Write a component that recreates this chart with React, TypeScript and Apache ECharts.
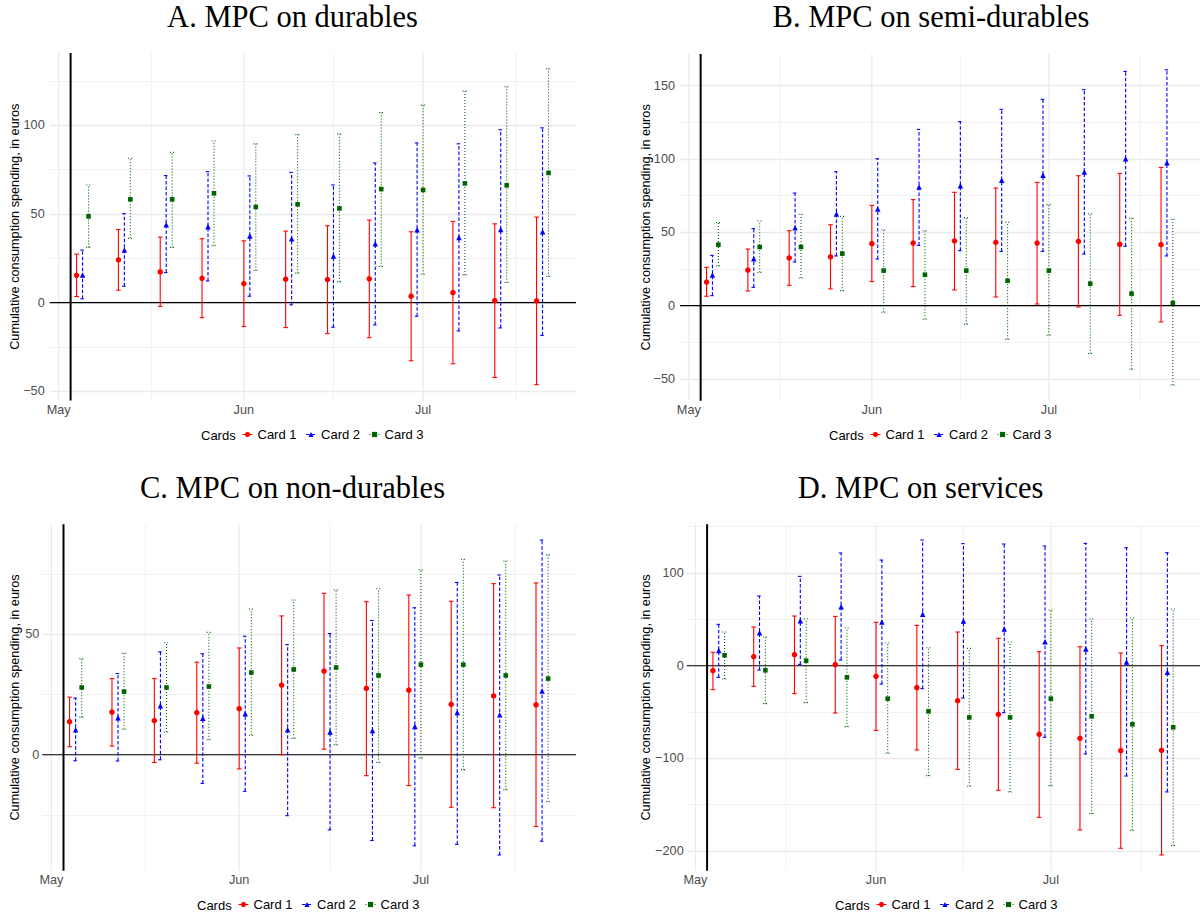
import React, { useEffect, useRef } from 'react';
import * as echarts from 'echarts';

// ---- data -------------------------------------------------------------
// Weekly reporting dates (MM-DD); Card 2 sits on the date, Cards 1 and 3 are dodged a day either side
const weekDates = ['05-05', '05-12', '05-19', '05-26', '06-02', '06-09', '06-16', '06-23', '06-30', '07-07', '07-14', '07-21'];
const cardsIssued = '05-03';
const monthStarts = ['05-01', '06-01', '07-01', '08-01'];
const monthLabels = ['May', 'Jun', 'Jul', 'Aug'];

const cardNames = ['Card 1', 'Card 2', 'Card 3'];
const cardColors = ['#ff0000', '#0000ff', '#006400'];
const cardSymbols = ['circle', 'triangle', 'rect'];
const cardSymbolSizes = [5.5, 5.5, 4.6];
const cardDash: (number[] | null)[] = [null, [3.5, 2], [1, 2]];
const cardDodgeDays = [-1, 0, 1];

// [estimate, lower, upper] per week
const durablesCard1 = [[15.4, 3.4, 27.3], [24.1, 7.0, 41.2], [17.3, -2.1, 36.9], [13.7, -8.5, 36.0], [10.7, -13.4, 34.8], [13.2, -14.1, 40.3], [13.0, -17.5, 43.3], [13.4, -19.8, 46.5], [3.6, -32.8, 39.9], [5.6, -34.5, 45.8], [1.1, -42.2, 44.4], [0.9, -46.3, 48.2]];
const durablesCard2 = [[15.6, 2.1, 29.6], [29.6, 9.2, 50.1], [43.9, 16.9, 71.6], [42.7, 12.2, 73.8], [37.5, 3.6, 71.4], [36.0, -1.3, 73.4], [26.2, -13.9, 66.3], [33.1, -12.6, 78.7], [41.1, -7.7, 90.0], [36.7, -16.0, 89.5], [41.2, -14.3, 97.4], [39.9, -18.5, 98.5]];
const durablesCard3 = [[48.6, 31.1, 66.3], [58.2, 36.2, 81.4], [58.2, 31.1, 84.7], [61.6, 32.0, 91.1], [53.9, 18.1, 89.5], [55.4, 16.6, 94.7], [53.1, 11.7, 95.1], [64.0, 20.3, 107.2], [63.5, 16.0, 111.3], [67.2, 15.6, 119.2], [66.1, 11.3, 121.7], [73.1, 14.7, 131.8]];

const semiCard1 = [[16.1, 6.4, 26.1], [24.3, 10.0, 38.6], [32.5, 13.9, 51.1], [33.2, 11.4, 55.2], [42.3, 16.4, 68.4], [42.7, 13.0, 72.3], [44.1, 10.7, 77.3], [43.2, 5.9, 80.2], [42.7, 1.1, 84.1], [43.9, -0.9, 88.6], [41.8, -6.6, 90.2], [41.6, -11.1, 94.3]];
const semiCard2 = [[20.9, 6.8, 34.3], [32.0, 12.5, 52.5], [53.2, 29.8, 76.8], [62.5, 33.9, 91.4], [65.9, 31.8, 100.2], [80.9, 41.1, 120.2], [81.8, 37.5, 125.5], [85.5, 37.0, 133.9], [88.9, 37.0, 140.7], [91.1, 35.2, 147.3], [100.2, 40.5, 159.8], [97.5, 33.9, 160.9]];
const semiCard3 = [[41.6, 27.0, 56.6], [40.0, 22.7, 57.7], [40.0, 18.9, 62.3], [35.5, 10.2, 60.9], [23.9, -4.5, 51.8], [21.1, -9.3, 51.1], [23.9, -12.7, 60.0], [17.0, -23.0, 56.8], [23.9, -20.2, 68.9], [15.0, -32.7, 62.7], [8.2, -43.4, 59.5], [1.8, -54.1, 58.9]];

const nonDurCard1 = [[13.7, 3.3, 23.9], [17.7, 3.6, 31.6], [14.2, -3.2, 31.6], [17.5, -3.5, 38.4], [19.1, -5.9, 44.3], [28.9, 0.0, 57.6], [34.7, 2.3, 67.0], [27.5, -8.7, 63.5], [26.8, -12.8, 66.3], [20.9, -21.8, 63.7], [24.4, -22.0, 71.0], [20.7, -29.8, 71.3]];
const nonDurCard2 = [[10.4, -2.5, 23.5], [15.3, -2.6, 33.7], [20.3, -2.1, 42.7], [15.1, -11.9, 41.9], [17.0, -15.2, 49.2], [10.4, -25.3, 45.7], [9.4, -31.2, 50.3], [10.1, -35.6, 55.7], [11.7, -37.8, 61.0], [17.5, -37.2, 71.5], [16.6, -41.6, 74.6], [26.4, -35.9, 89.1]];
const nonDurCard3 = [[27.9, 15.6, 39.9], [26.2, 10.6, 42.1], [27.9, 9.4, 46.5], [28.3, 6.2, 50.8], [34.1, 8.1, 60.5], [35.4, 6.8, 64.2], [36.2, 4.1, 68.4], [32.9, -3.2, 68.9], [37.4, -1.4, 76.7], [37.4, -6.2, 81.1], [32.9, -14.5, 80.4], [31.6, -19.5, 83.0]];

const servicesCard1 = [[-5.4, -25.9, 14.4], [9.7, -22.3, 41.7], [11.9, -30.2, 53.6], [1.1, -51.1, 53.2], [-11.5, -69.8, 46.8], [-23.7, -91.0, 43.5], [-37.8, -111.9, 36.3], [-52.5, -134.5, 29.5], [-74.1, -163.7, 15.1], [-78.4, -177.3, 20.5], [-91.7, -197.1, 13.7], [-91.4, -204.3, 21.6]];
const servicesCard2 = [[16.5, -12.6, 44.6], [35.6, -4.7, 75.2], [48.6, 1.4, 96.4], [63.7, 6.1, 121.6], [47.1, -19.8, 114.0], [55.4, -24.8, 135.6], [48.2, -34.9, 131.7], [39.6, -50.7, 131.3], [25.9, -77.3, 129.1], [18.0, -95.3, 132.0], [4.0, -119.1, 127.3], [-7.2, -136.3, 121.9]];
const servicesCard3 = [[11.2, -14.4, 36.3], [-5.0, -41.0, 30.9], [5.4, -39.9, 50.7], [-12.6, -65.8, 41.0], [-35.6, -94.6, 24.5], [-49.3, -118.7, 19.4], [-55.8, -130.2, 18.7], [-55.8, -136.3, 25.5], [-35.6, -129.5, 60.1], [-54.7, -159.7, 50.4], [-63.3, -177.7, 51.4], [-66.5, -194.2, 61.2]];

// ---- layout & style ---------------------------------------------------
const SANS = '"Liberation Sans", Arial, Helvetica, sans-serif';
const SERIF = '"Liberation Serif", "Times New Roman", serif';
const GRID_COLOR = '#ebebeb';
const LABEL_COLOR = '#4d4d4d';
const X_MIN = -1.5;
const X_MAX = 86.6;
const Y_TITLE = 'Cumulative consumption spending, in euros';

const panels = [
  { title: 'A. MPC on durables', cards: [durablesCard1, durablesCard2, durablesCard3], step: 50,
    grid: { left: 49.7, top: 53, width: 526.3, height: 347.5 }, titleX: 292.5, titleY: 17, yTitleX: 15, legendX: 201, legendY: 435, yLabelMargin: 5 },
  { title: 'B. MPC on semi-durables', cards: [semiCard1, semiCard2, semiCard3], step: 50,
    grid: { left: 680, top: 54, width: 527, height: 346.7 }, titleX: 931, titleY: 17, yTitleX: 646, legendX: 829, legendY: 435, yLabelMargin: 5 },
  { title: 'C. MPC on non-durables', cards: [nonDurCard1, nonDurCard2, nonDurCard3], step: 50,
    grid: { left: 42.3, top: 524.3, width: 533.7, height: 346.4 }, titleX: 292.5, titleY: 488, yTitleX: 15, legendX: 197, legendY: 905, yLabelMargin: 3 },
  { title: 'D. MPC on services', cards: [servicesCard1, servicesCard2, servicesCard3], step: 100,
    grid: { left: 686.7, top: 524.3, width: 519, height: 346.4 }, titleX: 920.5, titleY: 488, yTitleX: 646, legendX: 835, legendY: 905, yLabelMargin: 3 },
];

// days since 1 May
const dayOf = (mmdd: string) => {
  const [m, d] = mmdd.split('-').map(Number);
  return (Date.UTC(2021, m - 1, d) - Date.UTC(2021, 4, 1)) / 86400000;
};
const weekDays = weekDates.map(dayOf);
const majorDays = monthStarts.map(dayOf);
const minorDays = majorDays.slice(1).map((d, i) => (d + majorDays[i]) / 2);
const inDomain = (d: number) => d >= X_MIN && d <= X_MAX;

const monthLabel = (v: number) => {
  const i = majorDays.findIndex((d) => Math.abs(d - v) < 1e-6);
  return i >= 0 ? monthLabels[i] : '';
};
const signed = (v: number) => (v < 0 ? '\u2212' + Math.abs(v) : String(v));

// y range: data extent expanded by 5% on each side
const yRange = (cards: number[][][]) => {
  const vals = cards.flatMap((c) => c.flatMap((r) => [r[1], r[2]]));
  const lo = Math.min(...vals);
  const hi = Math.max(...vals);
  const pad = (hi - lo) * 0.05;
  return [lo - pad, hi + pad];
};

const vLineItem = (width: number, color: string) => (params: any, api: any) => {
  const cs = params.coordSys;
  const x = api.coord([api.value(0), api.value(1)])[0];
  return { type: 'line', silent: true, shape: { x1: x, y1: cs.y, x2: x, y2: cs.y + cs.height }, style: { stroke: color, lineWidth: width } };
};
const hLineItem = (width: number, color: string) => (params: any, api: any) => {
  const cs = params.coordSys;
  const y = api.coord([api.value(0), api.value(1)])[1];
  return { type: 'line', silent: true, shape: { x1: cs.x, y1: y, x2: cs.x + cs.width, y2: y }, style: { stroke: color, lineWidth: width } };
};
const errorBarItem = (color: string, dash: number[] | null) => (_params: any, api: any) => {
  const x = api.value(0);
  const pLo = api.coord([x, api.value(1)]);
  const pHi = api.coord([x, api.value(2)]);
  const cap = 2.3;
  const style: any = { stroke: color, lineWidth: 1.1, lineDash: dash || undefined };
  return {
    type: 'group',
    children: [
      { type: 'line', shape: { x1: pLo[0], y1: pLo[1], x2: pHi[0], y2: pHi[1] }, style },
      { type: 'line', shape: { x1: pLo[0] - cap, y1: pLo[1], x2: pLo[0] + cap, y2: pLo[1] }, style },
      { type: 'line', shape: { x1: pHi[0] - cap, y1: pHi[1], x2: pHi[0] + cap, y2: pHi[1] }, style },
    ],
  };
};

function buildOption() {
  const series: any[] = [];
  const graphic: any[] = [];

  panels.forEach((p, i) => {
    const axes = { xAxisIndex: i, yAxisIndex: i };
    series.push({
      type: 'custom', ...axes, silent: true, z: 1,
      data: majorDays.filter(inDomain).map((d) => [d, 0]),
      renderItem: vLineItem(1.3, GRID_COLOR),
    });
    series.push({
      type: 'custom', ...axes, silent: true, z: 1,
      data: minorDays.filter(inDomain).map((d) => [d, 0]),
      renderItem: vLineItem(0.7, GRID_COLOR),
    });
    series.push({
      type: 'custom', ...axes, silent: true, z: 2,
      data: [[0, 0]], renderItem: hLineItem(1.1, '#000'),
    });
    series.push({
      type: 'custom', ...axes, silent: true, z: 2,
      data: [[dayOf(cardsIssued), 0]], renderItem: vLineItem(2, '#000'),
    });
    p.cards.forEach((rows, c) => {
      const xs = weekDays.map((d) => d + cardDodgeDays[c]);
      series.push({
        type: 'custom', name: cardNames[c] + ' interval', ...axes, silent: true, z: 3,
        data: rows.map((r, k) => [xs[k], r[1], r[2]]),
        encode: { x: 0, y: [1, 2] },
        renderItem: errorBarItem(cardColors[c], cardDash[c]),
      });
    });
    p.cards.forEach((rows, c) => {
      const xs = weekDays.map((d) => d + cardDodgeDays[c]);
      series.push({
        type: 'line', name: cardNames[c], ...axes, z: 4, silent: true,
        data: rows.map((r, k) => [xs[k], r[0]]),
        symbol: cardSymbols[c], symbolSize: cardSymbolSizes[c], showSymbol: true,
        itemStyle: { color: cardColors[c] },
        lineStyle: { color: cardColors[c], width: 1, opacity: 0, type: cardDash[c] || 'solid' },
        emphasis: { disabled: true },
      });
    });

    graphic.push({
      type: 'text', x: p.titleX, y: p.titleY, silent: true,
      style: { text: p.title, fontFamily: SERIF, fontSize: 30.5, fill: '#000', align: 'center', verticalAlign: 'middle', textAlign: 'center', textVerticalAlign: 'middle' },
    });
    graphic.push({
      type: 'text', x: p.yTitleX, y: p.grid.top + p.grid.height / 2, rotation: Math.PI / 2, silent: true,
      style: { text: Y_TITLE, fontFamily: SANS, fontSize: 12.7, fill: '#000', align: 'center', verticalAlign: 'middle', textAlign: 'center', textVerticalAlign: 'middle' },
    });
    graphic.push({
      type: 'text', x: p.legendX, y: p.legendY, silent: true,
      style: { text: 'Cards', fontFamily: SANS, fontSize: 13, fill: '#000', align: 'left', verticalAlign: 'middle', textAlign: 'left', textVerticalAlign: 'middle' },
    });
  });

  return {
    animation: false,
    backgroundColor: '#ffffff',
    grid: panels.map((p) => ({ ...p.grid, containLabel: false })),
    xAxis: panels.map((_p, i) => ({
      type: 'value', gridIndex: i, min: X_MIN, max: X_MAX, interval: 0.5,
      axisLine: { show: false }, axisTick: { show: false }, splitLine: { show: false },
      axisLabel: { formatter: monthLabel, color: LABEL_COLOR, fontFamily: SANS, fontSize: 12.7, margin: 3 },
    })),
    yAxis: panels.map((p, i) => {
      const [lo, hi] = yRange(p.cards);
      return {
        type: 'value', gridIndex: i, min: lo, max: hi, splitNumber: 4,
        minInterval: p.step, maxInterval: p.step,
        axisLine: { show: false }, axisTick: { show: false },
        axisLabel: { formatter: signed, color: LABEL_COLOR, fontFamily: SANS, fontSize: 12.7, margin: p.yLabelMargin, showMinLabel: false, showMaxLabel: false },
        splitLine: { show: true, showMinLine: false, showMaxLine: false, lineStyle: { color: GRID_COLOR, width: 1.3 } },
        minorTick: { show: false, splitNumber: 2 },
        minorSplitLine: { show: true, lineStyle: { color: GRID_COLOR, width: 0.7 } },
      };
    }),
    legend: panels.map((p) => ({
      left: p.legendX + 41, top: p.legendY - 7, padding: 0, itemGap: 9, itemWidth: 10, itemHeight: 6.5,
      selectedMode: false,
      textStyle: { fontFamily: SANS, fontSize: 13, color: '#000' },
      data: cardNames.map((n) => ({ name: n, lineStyle: { opacity: 1, width: 1 }, itemStyle: { opacity: 1 } })),
    })),
    graphic,
    series,
  };
}

export default function App() {
  const ref = useRef<HTMLDivElement>(null);
  useEffect(() => {
    if (!ref.current) return;
    const chart = echarts.init(ref.current, null, { renderer: 'svg' });
    chart.setOption(buildOption() as any);
    return () => chart.dispose();
  }, []);
  return (
    <div
      ref={ref}
      style={{ position: 'absolute', left: 0, top: 0, width: 1203, height: 918, background: '#fff', overflow: 'hidden' }}
    />
  );
}
